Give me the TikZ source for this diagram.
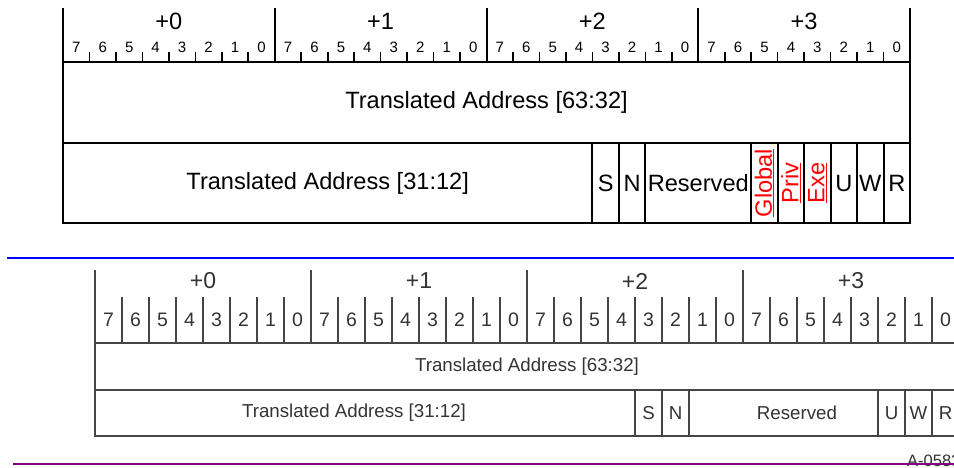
\documentclass[tikz,border=0pt]{standalone}
\usepackage{fontspec}
\setmainfont{Liberation Sans}
\definecolor{linegray}{HTML}{454545}
\definecolor{textgray}{HTML}{333333}
\definecolor{rulepurple}{HTML}{800080}
\tikzset{
	topline/.style={line width=2pt, color=black},
	topfield/.style={inner sep=0pt, font=\fontsize{23.6}{28}\selectfont},
	topbit/.style={inner sep=0pt, font=\fontsize{15}{18}\selectfont},
	topflag/.style={inner sep=0pt, rotate=90, color=red, font=\fontsize{23.6}{28}\selectfont},
	botline/.style={line width=1.2pt, color=linegray},
	botfield/.style={inner sep=0pt, color=textgray, font=\fontsize{18.7}{22}\selectfont},
	botbyte/.style={inner sep=0pt, color=textgray, font=\fontsize{23}{28}\selectfont},
	botbit/.style={inner sep=0pt, color=textgray, font=\fontsize{19.5}{23}\selectfont}
}
\def\tx{63}
\def\tw{26.47}
\def\bx{95}
\def\bw{27}

\begin{document}
\begin{tikzpicture}[x=1pt, y=-1pt]
			%%%%% START %%%%%
			\clip (0, 0) rectangle (954, 468);
			
			%%%%% top layout %%%%%
			\foreach \by in {0,...,4}
				\draw[topline] ({\tx+\by*8*\tw}, 8) -- ({\tx+\by*8*\tw}, 62);
			\foreach \by in {0,...,3}
				\foreach \bi in {1,...,7}
					\draw[line width=1.6pt] ({\tx+(\by*8+\bi)*\tw}, 52) -- ({\tx+(\by*8+\bi)*\tw}, 62);
			\foreach \by in {0,...,3}
				\node[topfield] (tbyte\by) at ({\tx+(\by*8+4)*\tw}, 21) {+\by};
			\foreach \k in {0,...,31}{
				\pgfmathtruncatemacro\bitno{7-mod(\k,8)}
				\node[topbit] (tb\k) at ({\tx+(\k+0.5)*\tw}, 47) {\bitno};
			}
			
			\draw[topline] (\tx, 62) rectangle ({\tx+32*\tw}, 143);
			\draw[topline] (\tx, 143) rectangle ({\tx+32*\tw}, 223);
			\foreach \k in {20,21,22,26,27,28,29,30,31}
				\draw[topline] ({\tx+\k*\tw}, 143) -- ({\tx+\k*\tw}, 223);
			
			\node[topfield] (thi) at ({\tx+16*\tw}, 102) {Translated Address [63:32]};
			\node[topfield] (tlo) at ({\tx+10*\tw}, 183) {Translated Address [31:12]};
			\node[topfield] (tS) at ({\tx+20.5*\tw}, 183) {S};
			\node[topfield] (tN) at ({\tx+21.5*\tw}, 183) {N};
			\node[topfield] (tres) at ({\tx+24*\tw}, 183) {Reserved};
			\node[topflag] (tglobal) at ({\tx+26.5*\tw}, 183) {\underline{Global}};
			\node[topflag] (tpriv) at ({\tx+27.5*\tw}, 183) {\underline{Priv}};
			\node[topflag] (texe) at ({\tx+28.5*\tw}, 183) {\underline{Exe}};
			\node[topfield] (tU) at ({\tx+29.5*\tw}, 183) {U};
			\node[topfield] (tW) at ({\tx+30.5*\tw}, 183) {W};
			\node[topfield] (tR) at ({\tx+31.5*\tw}, 183) {R};
			
			\draw[line width=2pt, color=blue] (7, 258) -- (954, 258);
			
			%%%%% bottom layout %%%%%
			\foreach \by in {0,...,4}
				\draw[botline] ({\bx+\by*8*\bw}, 270) -- ({\bx+\by*8*\bw}, 343);
			\foreach \by in {0,...,3}
				\foreach \bi in {1,...,7}
					\draw[botline] ({\bx+(\by*8+\bi)*\bw}, 297) -- ({\bx+(\by*8+\bi)*\bw}, 343);
			\foreach \by in {0,...,3}
				\node[botbyte] (bbyte\by) at ({\bx+(\by*8+4)*\bw}, 281) {+\by};
			\foreach \k in {0,...,31}{
				\pgfmathtruncatemacro\bitno{7-mod(\k,8)}
				\node[botbit] (bb\k) at ({\bx+(\k+0.5)*\bw}, 320) {\bitno};
			}
			
			\draw[botline] (\bx, 343) rectangle ({\bx+32*\bw}, 390);
			\draw[botline] (\bx, 390) rectangle ({\bx+32*\bw}, 436);
			\foreach \k in {20,21,22,29,30,31}
				\draw[botline] ({\bx+\k*\bw}, 390) -- ({\bx+\k*\bw}, 436);
			
			\node[botfield] (bhi) at ({\bx+16*\bw}, 367) {Translated Address [63:32]};
			\node[botfield] (blo) at (354, 413) {Translated Address [31:12]};
			\node[botfield] (bS) at ({\bx+20.5*\bw}, 413) {S};
			\node[botfield] (bN) at ({\bx+21.5*\bw}, 413) {N};
			\node[botfield] (bres) at ({\bx+26*\bw}, 413) {Reserved};
			\node[botfield] (bU) at ({\bx+29.5*\bw}, 413) {U};
			\node[botfield] (bW) at ({\bx+30.5*\bw}, 413) {W};
			\node[botfield] (bR) at ({\bx+31.5*\bw}, 413) {R};
			
			\node[inner sep=0pt, anchor=west, color=textgray, font=\fontsize{16.5}{20}\selectfont] (fig) at (907, 461) {A-0583};
			\draw[line width=2pt, color=rulepurple] (13, 464) -- (954, 464);
			%%%%% END %%%%%
\end{tikzpicture}
\end{document}
